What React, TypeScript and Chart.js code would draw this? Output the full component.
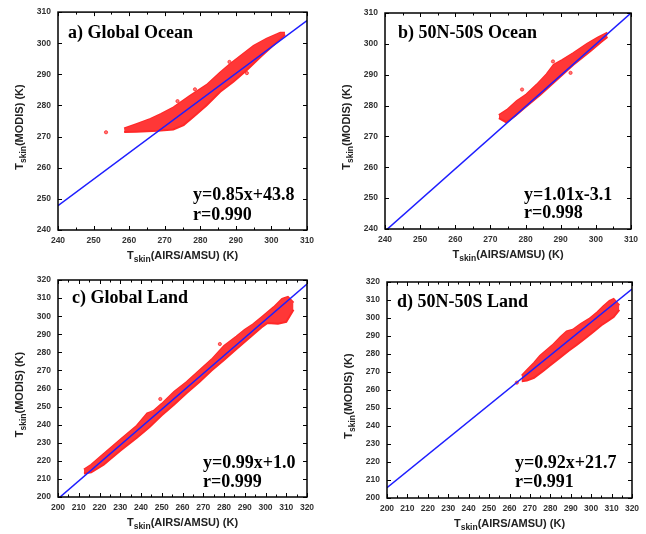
import React, { useEffect, useRef } from "react";
import { Chart, registerables } from "chart.js";

Chart.register(...registerables);

type Pt = [number, number];

// ---------- data ----------
const panelLabels = ["a) Global Ocean", "b) 50N-50S Ocean", "c) Global Land", "d) 50N-50S Land"];
const fitSlopes = [0.85, 1.01, 0.99, 0.92];
const fitIntercepts = [43.8, -3.1, 1.0, 21.7];
const fitTexts = ["y=0.85x+43.8", "y=1.01x-3.1", "y=0.99x+1.0", "y=0.92x+21.7"];
const corrTexts = ["r=0.990", "r=0.998", "r=0.999", "r=0.991"];
const oceanRange: Pt = [240, 310];
const landRange: Pt = [200, 320];
const xTitleMain = "(AIRS/AMSU) (K)";
const yTitleMain = "(MODIS) (K)";

// cloud envelopes (upper / lower edge of the dense scatter) and isolated points
const oceanGlobalUpper: Pt[] = [[258.6,272.6],[262,274.0],[266,275.7],[269,277.3],[272.5,279.4],[277,283.0],[281.8,286.6],[285.6,290.6],[288.4,293.3],[291.2,295.8],[295,299.2],[298.7,301.5],[302.5,303.4],[303.8,303.4]];
const oceanGlobalLower: Pt[] = [[258.6,271.5],[262,271.6],[268,271.9],[272.4,272.3],[275.3,273.7],[278.1,276.4],[281.8,280.1],[285.6,284.4],[289.3,287.6],[293.1,291.4],[296.9,295.6],[300.6,299.4],[303.4,302.2],[303.8,302.8]];
const oceanGlobalOutliers: Pt[] = [[253.5,271.4],[273.6,281.4],[278.5,285.2],[288.2,294.0],[293.1,290.4]];

const oceanTropUpper: Pt[] = [[272.4,276.9],[274.7,278.6],[277.5,281.5],[280.2,283.6],[283.2,286.8],[286,290.2],[288,293.2],[290.5,294.8],[293.6,297.0],[297.5,300.0],[300.5,302.0],[303.3,303.6]];
const oceanTropLower: Pt[] = [[272.4,275.9],[274.5,274.6],[277,276.6],[279.4,279.0],[284.2,283.5],[288.9,288.4],[293.6,293.2],[298.4,297.6],[301.5,300.6],[303.3,302.2]];
const oceanTropOutliers: Pt[] = [[279.0,285.2],[287.8,294.3],[292.8,290.6]];

const landGlobalUpper: Pt[] = [[212.5,215.2],[216,217.8],[222,223.8],[230,231.6],[238,239.4],[243,246.2],[246,247.5],[250,251.5],[256,258.2],[262,263.6],[268,269.8],[274,276.0],[280,283.5],[286,288.8],[290,292.5],[294,295.5],[298,299.2],[304,305.0],[308,309.5],[310.8,310.6],[313.5,307.5]];
const landGlobalLower: Pt[] = [[212.5,213.0],[216,213.6],[222,217.8],[230,225.6],[238,232.8],[244,238.5],[250,245.2],[256,251.2],[262,257.5],[268,263.5],[274,270.0],[280,275.8],[286,281.8],[292,287.8],[298,293.8],[301,296.2],[306,295.8],[310,296.8],[313.5,303.5]];
const landGlobalOutliers: Pt[] = [[249.3,254.2],[278,284.6],[245.5,246.8]];

const landTropUpper: Pt[] = [[266,268.0],[268.5,271.0],[272,275.0],[275,279.0],[281,284.8],[285,289.5],[288,292.5],[291,293.5],[295,296.8],[299,299.5],[303,303.2],[306,306.5],[309,309.5],[311,310.6],[313.8,307]];
const landTropLower: Pt[] = [[266,264.8],[268.5,265.2],[272,266.8],[276.5,270.6],[280,273.8],[284.7,278.0],[289,281.8],[292.9,285.0],[297,288.6],[301,292.2],[305,296.0],[308,298.2],[311,300.5],[313.8,304.5]];
const landTropOutliers: Pt[] = [[263.6,264.1]];

const uppers = [oceanGlobalUpper, oceanTropUpper, landGlobalUpper, landTropUpper];
const lowers = [oceanGlobalLower, oceanTropLower, landGlobalLower, landTropLower];
const outliers = [oceanGlobalOutliers, oceanTropOutliers, landGlobalOutliers, landTropOutliers];
const ranges = [oceanRange, oceanRange, landRange, landRange];

// ---------- layout (canvas-local geometry) ----------
const W = 323;
const H = 267;
const geom = [
  { x: 0, y: 0, L: 58, T: 12, R: 307, B: 230, lab: [10, 26], eq: [135, 30, 10] },
  { x: 323, y: 0, L: 62, T: 13, R: 308, B: 229, lab: [13, 25], eq: [139, 29, 11] },
  { x: 0, y: 267, L: 58, T: 13, R: 307, B: 230, lab: [14, 23], eq: [145, 29, 10] },
  { x: 323, y: 267, L: 64, T: 15, R: 309, B: 231, lab: [10, 25], eq: [128, 30, 11] },
];

const SANS = '"Liberation Sans", Arial, sans-serif';
const SERIF = '"Liberation Serif", "Times New Roman", serif';
const RED = "rgb(255,40,40)";
const FILL = "rgb(255,55,55)";
const BLUE = "rgb(30,30,255)";

function drawTitle(ctx: CanvasRenderingContext2D, main: string) {
  const parts = [
    { t: "T", f: `bold 11px ${SANS}`, dy: 0 },
    { t: "skin", f: `bold 8.5px ${SANS}`, dy: 3 },
    { t: main, f: `bold 11px ${SANS}`, dy: 0 },
  ];
  let total = 0;
  const widths = parts.map((p) => {
    ctx.font = p.f;
    const w = ctx.measureText(p.t).width;
    total += w;
    return w;
  });
  let x = -total / 2;
  ctx.textAlign = "left";
  ctx.textBaseline = "alphabetic";
  ctx.fillStyle = "#222";
  parts.forEach((p, i) => {
    ctx.font = p.f;
    ctx.fillText(p.t, x, p.dy);
    x += widths[i];
  });
}

function Panel({ idx }: { idx: number }) {
  const ref = useRef<HTMLCanvasElement>(null);
  useEffect(() => {
    const g = geom[idx];
    const [mn, mx] = ranges[idx];
    const slope = fitSlopes[idx];
    const icpt = fitIntercepts[idx];
    const toXY = (a: Pt[]) => a.map(([x, y]) => ({ x, y }));

    const decor = {
      id: "decor" + idx,
      afterDraw(chart: any) {
        const ctx: CanvasRenderingContext2D = chart.ctx;
        const a = chart.chartArea;
        const xs = chart.scales.x;
        const ys = chart.scales.y;
        ctx.save();
        ctx.strokeStyle = "#000";
        ctx.lineWidth = 1.5;
        ctx.strokeRect(a.left, a.top, a.right - a.left, a.bottom - a.top);
        ctx.lineWidth = 1;
        ctx.beginPath();
        for (let v = mn; v <= mx; v += 5) {
          const px = Math.round(xs.getPixelForValue(v)) + 0.5;
          const len = v % 10 === 0 ? 4 : 2.5;
          ctx.moveTo(px, a.bottom);
          ctx.lineTo(px, a.bottom - len);
          ctx.moveTo(px, a.top);
          ctx.lineTo(px, a.top + len);
        }
        for (let v = mn; v <= mx; v += 10) {
          const py = Math.round(ys.getPixelForValue(v)) + 0.5;
          ctx.moveTo(a.left, py);
          ctx.lineTo(a.left + 4, py);
          ctx.moveTo(a.right, py);
          ctx.lineTo(a.right - 4, py);
        }
        ctx.stroke();

        // axis titles
        ctx.save();
        ctx.translate((a.left + a.right) / 2, a.bottom + 28.5);
        drawTitle(ctx, xTitleMain);
        ctx.restore();
        ctx.save();
        ctx.translate(a.left - 35, (a.top + a.bottom) / 2 + 6);
        ctx.rotate(-Math.PI / 2);
        drawTitle(ctx, yTitleMain);
        ctx.restore();

        // panel label & fit text
        ctx.fillStyle = "#000";
        ctx.textAlign = "left";
        ctx.textBaseline = "alphabetic";
        ctx.font = `bold 18px ${SERIF}`;
        ctx.fillText(panelLabels[idx], a.left + g.lab[0], a.top + g.lab[1]);
        ctx.fillText(fitTexts[idx], a.left + g.eq[0], a.bottom - g.eq[1]);
        ctx.fillText(corrTexts[idx], a.left + g.eq[0], a.bottom - g.eq[2]);
        ctx.restore();
      },
    };

    const tickFont = { family: SANS, size: 8.5, weight: "bold" as const };
    const chart = new Chart(ref.current!, {
      type: "line",
      data: {
        datasets: [
          {
            data: toXY(uppers[idx]),
            borderColor: RED,
            borderWidth: 2,
            pointRadius: 0,
            fill: false,
            tension: 0,
            order: 3,
          },
          {
            data: toXY(lowers[idx]),
            borderColor: RED,
            borderWidth: 2,
            backgroundColor: FILL,
            pointRadius: 0,
            fill: "-1",
            tension: 0,
            order: 2,
          },
          {
            data: toXY(outliers[idx]),
            showLine: false,
            pointRadius: 1.6,
            pointBorderWidth: 0.8,
            pointBackgroundColor: "rgb(255,120,120)",
            pointBorderColor: RED,
            order: 2,
          },
          {
            data: [
              { x: mn, y: slope * mn + icpt },
              { x: mx, y: slope * mx + icpt },
            ],
            borderColor: BLUE,
            borderWidth: 1.5,
            pointRadius: 0,
            fill: false,
            order: 1,
          },
        ],
      },
      options: {
        animation: false,
        responsive: false,
        devicePixelRatio: 1,
        events: [],
        layout: { padding: { left: 0, top: g.T, right: W - g.R, bottom: 0 } },
        plugins: { legend: { display: false }, tooltip: { enabled: false }, title: { display: false } },
        scales: {
          x: {
            type: "linear",
            min: mn,
            max: mx,
            grid: { display: false, drawTicks: false },
            border: { display: false },
            ticks: { stepSize: 10, autoSkip: false, maxRotation: 0, padding: 6, color: "#333", font: tickFont, callback: (v: any) => String(v) },
            afterFit: (s: any) => {
              s.height = H - g.B;
            },
          },
          y: {
            type: "linear",
            min: mn,
            max: mx,
            grid: { display: false, drawTicks: false },
            border: { display: false },
            ticks: { stepSize: 10, autoSkip: false, padding: 7, color: "#333", font: tickFont, callback: (v: any) => String(v) },
            afterFit: (s: any) => {
              s.width = g.L;
            },
          },
        },
      },
      plugins: [decor],
    } as any);
    return () => chart.destroy();
  }, [idx]);
  const g = geom[idx];
  return (
    <canvas
      ref={ref}
      width={W}
      height={H}
      style={{ position: "absolute", left: g.x, top: g.y, width: W, height: H }}
    />
  );
}

export default function App() {
  return (
    <div style={{ position: "fixed", left: 0, top: 0, width: 646, height: 534, background: "#fff" }}>
      {[0, 1, 2, 3].map((i) => (
        <Panel key={i} idx={i} />
      ))}
    </div>
  );
}
